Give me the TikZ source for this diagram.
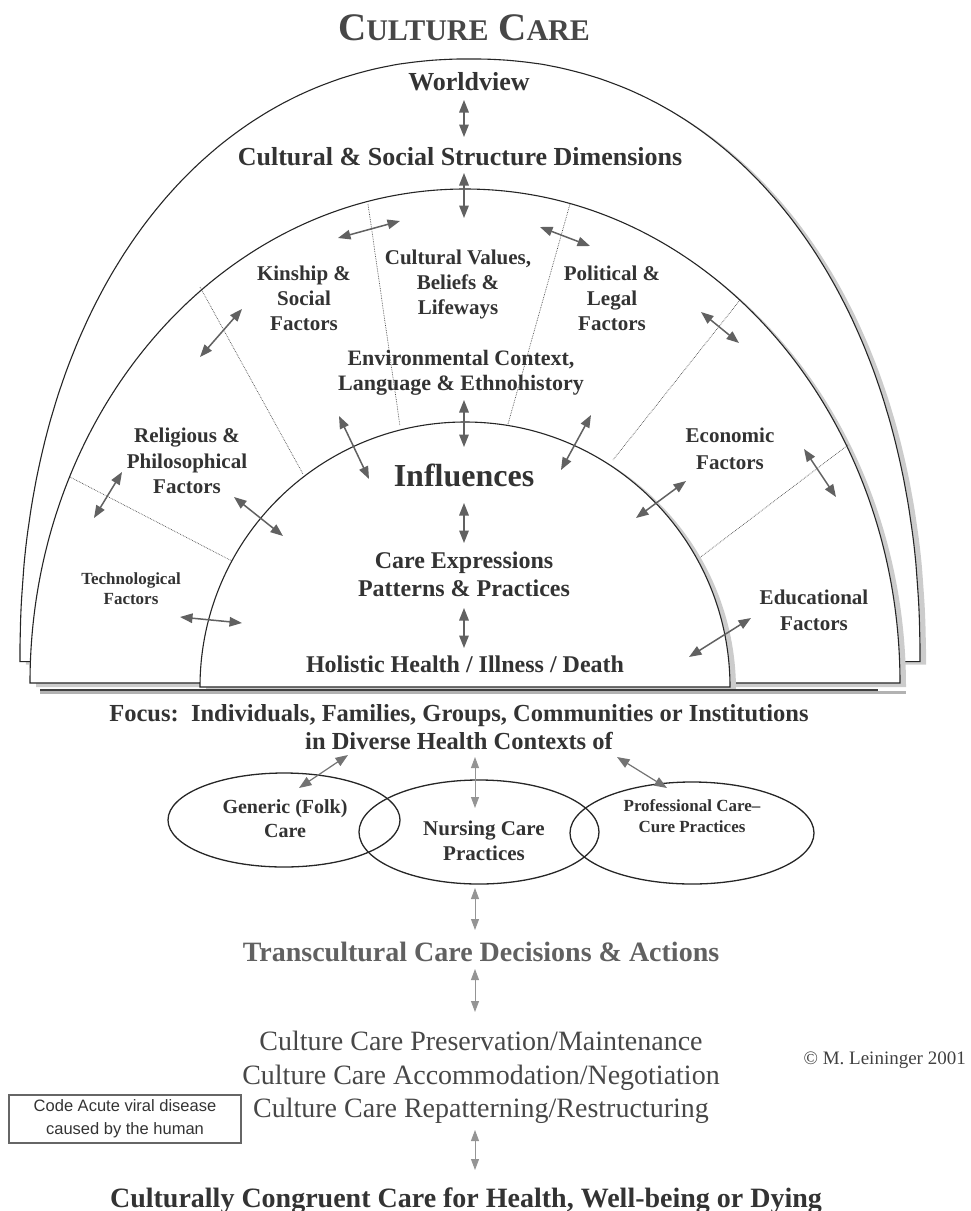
\documentclass[tikz,border=0pt]{standalone}
\usepackage{fontspec}
\setmainfont{Liberation Serif}
\setsansfont{Liberation Sans}
\usetikzlibrary{arrows.meta,shapes.geometric}
\newcommand\myfs[2]{\fontsize{#1}{#2}\selectfont}
\tikzset{
  archline/.style={draw=black!85, line width=1.1pt, fill=white},
  archshadow/.style={fill=black!20},
  sepline/.style={densely dotted, line width=0.7pt, draw=black!70},
  arr/.style={draw=black!62, line width=1.5pt, {Triangle[length=12.5pt,width=9.5pt]}-{Triangle[length=12.5pt,width=9.5pt]}},
  arrlight/.style={draw=black!42, line width=0.9pt, {Triangle[length=11pt,width=8pt]}-{Triangle[length=11pt,width=8pt]}},
  lbl/.style={text=black!80, inner sep=0pt, align=center},
  ell/.style={ellipse, draw=black!85, line width=1.3pt, inner sep=0pt},
}
\begin{document}
\begin{tikzpicture}[x=1pt,y=-1pt]
\useasboundingbox (0,0) rectangle (970,1211);
% ---------- arches ----------
\begin{scope}[shift={(6,3)}]
\fill[archshadow] plot[domain=0.02:179.98, samples=181, smooth] ({470-450*sign(cos(\x))*pow(abs(cos(\x))+0.00001,0.9302)}, {662-603*pow(sin(\x)+0.00001,0.9302)}) -- cycle;
\end{scope}
\path[archline] plot[domain=0.02:179.98, samples=181, smooth] ({470-450*sign(cos(\x))*pow(abs(cos(\x))+0.00001,0.9302)}, {662-603*pow(sin(\x)+0.00001,0.9302)}) -- cycle;
\fill[archshadow] (36,687) arc[start angle=180,end angle=0,x radius=435pt,y radius=494pt] -- cycle;
\path[archline] (30,683) arc[start angle=180,end angle=0,x radius=435pt,y radius=494pt] -- cycle;
% separators
\draw[sepline] (368,204) -- (400,426);
\draw[sepline] (570,204) -- (508,424);
\draw[sepline] (200,287) -- (303,474);
\draw[sepline] (740,300) -- (613,460);
\draw[sepline] (70,477) -- (232,561);
\draw[sepline] (848,445) -- (698,559);
\fill[archshadow] (206,690) arc[start angle=180,end angle=0,radius=265pt] -- cycle;
\path[archline] (200,687) arc[start angle=180,end angle=0,radius=265pt] -- cycle;
% base shadow lines
\draw[black!30, line width=3pt] (40,692) -- (906,692);
\draw[black!75, line width=1.3pt] (40,690) -- (878,690);
% ---------- labels ----------
\node[lbl, text=black!72, font=\bfseries\myfs{39}{39}, anchor=base] (title) at (464,40) {C{\myfs{30}{30}ULTURE} C{\myfs{30}{30}ARE}};
\node[lbl, font=\bfseries\myfs{26}{30}, anchor=base] (wv) at (469,90) {Worldview};
\node[lbl, font=\bfseries\myfs{26}{30}, anchor=base] (css) at (460,165) {Cultural \& Social Structure Dimensions};
\node[lbl, font=\bfseries\myfs{21}{25}, anchor=north] (cvb) at (458,250) {Cultural Values,\\Beliefs \&\\Lifeways};
\node[lbl, font=\bfseries\myfs{21}{25}, anchor=north] (kin) at (304,266) {Kinship \&\\Social\\Factors};
\node[lbl, font=\bfseries\myfs{21}{25}, anchor=north] (pol) at (612,266) {Political \&\\Legal\\Factors};
\node[lbl, font=\bfseries\myfs{22}{25}, anchor=north] (env) at (461,350) {Environmental Context,\\Language \& Ethnohistory};
\node[lbl, font=\bfseries\myfs{21}{25.5}, anchor=north] (rel) at (187,428) {Religious \&\\Philosophical\\Factors};
\node[lbl, font=\bfseries\myfs{32}{36}, anchor=base] (inf) at (464,486) {Influences};
\node[lbl, font=\bfseries\myfs{21}{27}, anchor=north] (eco) at (730,428) {Economic\\Factors};
\node[lbl, font=\bfseries\myfs{17}{20}, anchor=north] (tec) at (131,572) {Technological\\Factors};
\node[lbl, font=\bfseries\myfs{24}{28}, anchor=north] (cep) at (464,552) {Care Expressions\\Patterns \& Practices};
\node[lbl, font=\bfseries\myfs{24}{28}, anchor=base] (hol) at (465,672) {Holistic Health / Illness / Death};
\node[lbl, font=\bfseries\myfs{21}{26}, anchor=north] (edu) at (814,590) {Educational\\Factors};
\node[lbl, font=\bfseries\myfs{24.5}{28}, anchor=north] (foc) at (459,704) {Focus:\ \ Individuals, Families, Groups, Communities or Institutions\\in Diverse Health Contexts of};
% ellipses
\node[ell, minimum width=232pt, minimum height=94pt] (gen) at (284,820) {};
\node[ell, minimum width=240pt, minimum height=104pt] (nur) at (479,832) {};
\node[ell, minimum width=244pt, minimum height=102pt] (pro) at (692,833) {};
\node[lbl, font=\bfseries\myfs{20}{24}, anchor=north] (gent) at (285,799) {Generic (Folk)\\Care};
\node[lbl, font=\bfseries\myfs{21}{25}, anchor=north] (nurt) at (484,821) {Nursing Care\\Practices};
\node[lbl, font=\bfseries\myfs{17}{21}, anchor=north] (prot) at (692,799) {Professional Care–\\Cure Practices};
\node[lbl, text=black!62, font=\bfseries\myfs{28}{32}, anchor=base] (tcd) at (481,961) {Transcultural Care Decisions \& Actions};
\node[lbl, text=black!72, font=\myfs{28}{33.5}, anchor=north] (ccp) at (481,1031) {Culture Care Preservation/Maintenance\\Culture Care Accommodation/Negotiation\\Culture Care Repatterning/Restructuring};
\node[draw=black!60, line width=1.2pt, rectangle, minimum width=232pt, minimum height=48pt, inner sep=0pt, align=center, text=black!80, font=\sffamily\myfs{16.5}{23}] (code) at (125,1119) {Code Acute viral disease\\caused by the human};
\node[lbl, text=black!75, font=\myfs{19}{22}, anchor=base east] (copy) at (966,1064) {© M. Leininger 2001};
\node[lbl, font=\bfseries\myfs{28}{32}, anchor=base] (ccc) at (466,1207) {Culturally Congruent Care for Health, Well-being or Dying};
% ---------- arrows ----------
\foreach \n/\ax/\ay/\bx/\by in {
  a1/464/100/464/137, a2/464/173/464/218, a3/338/238/400/221, a4/540/227/590/246,
  a5/200/357/242/309, a6/701/312/739/343, a7/464/400/464/447, a8/339/416/369/479,
  a9/591/415/561/470, a10/122/472/94/518, a11/234/497/283/536, a12/686/481/636/518,
  a13/804/449/836/497, a14/464/503/464/543, a15/180/617/242/623, a16/464/608/464/648,
  a17/751/618/689/657}{
  \coordinate (\n s) at (\ax,\ay);
  \coordinate (\n e) at (\bx,\by);
  \draw[arr] (\n s) -- (\n e);
}
\foreach \n/\ax/\ay/\bx/\by in {
  b1/348/755/299/788, b3/617/757/667/788}{
  \coordinate (\n s) at (\ax,\ay);
  \coordinate (\n e) at (\bx,\by);
  \draw[arr, draw=black!55, line width=1.2pt] (\n s) -- (\n e);
}
\foreach \n/\ax/\ay/\bx/\by in {
  b2/475/757/475/808, c1/475/888/475/930, c2/475/969/475/1012, c3/475/1130/475/1170}{
  \coordinate (\n s) at (\ax,\ay);
  \coordinate (\n e) at (\bx,\by);
  \draw[arrlight] (\n s) -- (\n e);
}
\end{tikzpicture}
\end{document}
